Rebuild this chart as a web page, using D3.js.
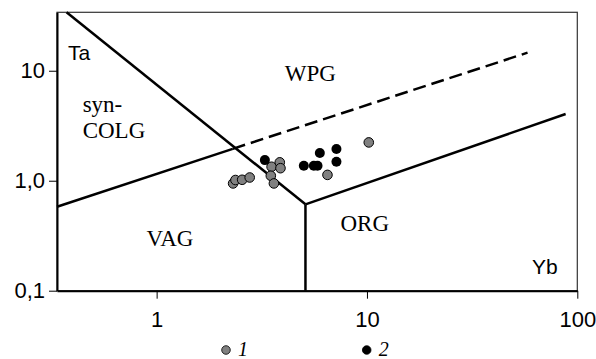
<!DOCTYPE html>
<html>
<head>
<meta charset="utf-8">
<script src="https://cdn.jsdelivr.net/npm/d3@7"></script>
<style>
  body { margin: 0; background: #fff; }
  .tick text { font-family: "Liberation Sans", Arial, sans-serif; font-size: 22px; fill: #000; }
  .field { font-family: "Liberation Serif", "Times New Roman", serif; font-size: 23px; fill: #000; }
  .elem { font-family: "Liberation Sans", Arial, sans-serif; font-size: 21px; fill: #000; }
</style>
</head>
<body>
<div id="chart"></div>
<script>
// Ta - Yb discrimination diagram (log-log)

var w = 596;
var h = 359;

// series 1 (grey) - Yb, Ta
var ybGrey = [2.31, 2.37, 2.55, 2.77, 3.52, 3.85, 3.88, 3.49, 3.61, 6.49, 10.2];
var taGrey = [0.945, 1.015, 1.02, 1.07, 1.34, 1.47, 1.30, 1.11, 0.945, 1.13, 2.23];

// series 2 (black)
var ybBlack = [3.27, 5.01, 5.59, 5.82, 5.97, 7.16, 7.16];
var taBlack = [1.54, 1.37, 1.37, 1.37, 1.79, 1.94, 1.49];

// field boundaries (Yb, Ta)
var vagWpgSolid = [[0.336, 0.58], [2.3, 1.95]];
var vagWpgDashed = [[2.3, 1.95], [58, 14.6]];
var colgVag = [[0.373, 34], [5.1, 0.61]];
var vagOrg = [[5.1, 0.61], [5.1, 0.1]];
var orgWpg = [[5.1, 0.61], [88, 4.04]];

var xTicks = [1, 10, 100];
var xTickLabels = ["1", "10", "100"];
var yTicks = [0.1, 1, 10];
var yTickLabels = ["0,1", "1,0", "10"];

var fields = [
  {name: "WPG", x: 4.07, y: 8.1},
  {name: "syn-", x: 0.445, y: 4.24},
  {name: "COLG", x: 0.445, y: 2.44},
  {name: "VAG", x: 0.896, y: 0.257},
  {name: "ORG", x: 7.48, y: 0.346}
];

// plot box (window.top is reserved, so no plain "top")
var pLeft = 57, pRight = 577.3, pTop = 12.3, pBottom = 290.7;

var x = d3.scaleLog()
          .domain([0.336, 100])
          .range([pLeft, pRight]);

var y = d3.scaleLog()
          .domain([0.1, 34])
          .range([pBottom, pTop]);

var svg = d3.select("#chart")
            .append("svg")
            .attr("width", w)
            .attr("height", h);

// frame
svg.append("rect")
   .attr("x", pLeft)
   .attr("y", pTop)
   .attr("width", pRight - pLeft)
   .attr("height", pBottom - pTop)
   .attr("fill", "none")
   .attr("stroke", "#333")
   .attr("stroke-width", 1.2);

var xAxis = d3.axisBottom(x)
              .tickValues(xTicks)
              .tickSize(8)
              .tickSizeOuter(0)
              .tickPadding(13)
              .tickFormat(function (d, i) { return xTickLabels[i]; });

var yAxis = d3.axisLeft(y)
              .tickValues(yTicks)
              .tickSize(8)
              .tickSizeOuter(0)
              .tickPadding(4)
              .tickFormat(function (d, i) { return yTickLabels[i]; });

svg.append("g")
   .attr("transform", "translate(0," + pBottom + ")")
   .call(xAxis)
   .call(function (g) { g.select(".domain").attr("stroke-width", 2); });

svg.append("g")
   .attr("transform", "translate(" + pLeft + ",0)")
   .call(yAxis)
   .call(function (g) { g.select(".domain").attr("stroke-width", 2); });

var line = d3.line()
             .x(function (d) { return x(d[0]); })
             .y(function (d) { return y(d[1]); });

[vagWpgSolid, colgVag, vagOrg, orgWpg].forEach(function (seg) {
  svg.append("path")
     .datum(seg)
     .attr("d", line)
     .attr("fill", "none")
     .attr("stroke", "#000")
     .attr("stroke-width", 2.5);
});

svg.append("path")
   .datum(vagWpgDashed)
   .attr("d", line)
   .attr("fill", "none")
   .attr("stroke", "#000")
   .attr("stroke-width", 2.5)
   .attr("stroke-dasharray", "13,6");

// field names
svg.selectAll(".field")
   .data(fields)
   .enter()
   .append("text")
   .attr("class", "field")
   .attr("x", function (d) { return x(d.x); })
   .attr("y", function (d) { return y(d.y); })
   .text(function (d) { return d.name; });

svg.append("text").attr("class", "elem").attr("x", 68).attr("y", 60).text("Ta");
svg.append("text").attr("class", "elem").attr("x", 532).attr("y", 274).text("Yb");

// points
svg.append("g")
   .selectAll("circle")
   .data(ybGrey)
   .enter()
   .append("circle")
   .attr("cx", function (d) { return x(d); })
   .attr("cy", function (d, i) { return y(taGrey[i]); })
   .attr("r", 4.8)
   .attr("fill", "#808080")
   .attr("stroke", "#000")
   .attr("stroke-width", 1);

svg.append("g")
   .selectAll("circle")
   .data(ybBlack)
   .enter()
   .append("circle")
   .attr("cx", function (d) { return x(d); })
   .attr("cy", function (d, i) { return y(taBlack[i]); })
   .attr("r", 5)
   .attr("fill", "#000");

// legend
var legend = [
  {label: "1", fill: "#808080", cx: 226},
  {label: "2", fill: "#000", cx: 366.7}
];

var lg = svg.append("g");
lg.selectAll("circle")
  .data(legend)
  .enter()
  .append("circle")
  .attr("cx", function (d) { return d.cx; })
  .attr("cy", 350)
  .attr("r", 4.3)
  .attr("fill", function (d) { return d.fill; })
  .attr("stroke", "#000")
  .attr("stroke-width", 0.8);

lg.selectAll("text")
  .data(legend)
  .enter()
  .append("text")
  .attr("x", function (d) { return d.cx + 12; })
  .attr("y", 356)
  .attr("font-family", "Liberation Serif, Times New Roman, serif")
  .attr("font-style", "italic")
  .attr("font-size", 20)
  .text(function (d) { return d.label; });
</script>
</body>
</html>
